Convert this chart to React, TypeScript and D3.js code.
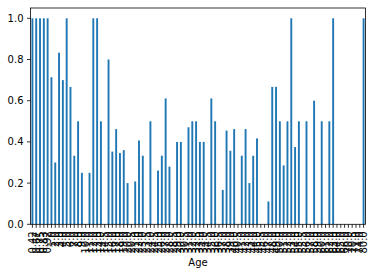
import React from "react";
import * as d3 from "d3";

const ages: number[] = [
  0.42, 0.67, 0.75, 0.83, 0.92, 1, 2, 3, 4, 5, 6, 7, 8, 9, 10, 11, 12, 13, 14, 14.5,
  15, 16, 17, 18, 19, 20, 20.5, 21, 22, 23, 23.5, 24, 24.5, 25, 26, 27, 28, 28.5, 29, 30,
  30.5, 31, 32, 32.5, 33, 34, 34.5, 35, 36, 36.5, 37, 38, 39, 40, 40.5, 41, 42, 43, 44, 45,
  45.5, 46, 47, 48, 49, 50, 51, 52, 53, 54, 55, 55.5, 56, 57, 58, 59, 60, 61, 62, 63,
  64, 65, 66, 70, 70.5, 71, 74, 80,
];

const survival: number[] = [
  1.0, 1.0, 1.0, 1.0, 1.0, 0.714, 0.3, 0.833, 0.7, 1.0, 0.667, 0.333, 0.5, 0.25, 0.0, 0.25, 1.0, 1.0, 0.5, 0.0,
  0.8, 0.353, 0.462, 0.346, 0.36, 0.2, 0.0, 0.208, 0.407, 0.333, 0.0, 0.5, 0.0, 0.261, 0.333, 0.611, 0.28, 0.0, 0.4, 0.4,
  0.0, 0.471, 0.5, 0.5, 0.4, 0.4, 0.0, 0.611, 0.5, 0.0, 0.167, 0.455, 0.357, 0.462, 0.0, 0.333, 0.462, 0.2, 0.333, 0.417,
  0.0, 0.0, 0.111, 0.667, 0.667, 0.5, 0.286, 0.5, 1.0, 0.375, 0.5, 0.0, 0.5, 0.0, 0.6, 0.0, 0.5, 0.0, 0.5, 1.0,
  0.0, 0.0, 0.0, 0.0, 0.0, 0.0, 0.0, 1.0,
];

const yTicks: number[] = [0, 0.2, 0.4, 0.6, 0.8, 1.0];

const fmtAge = (a: number) => (Number.isInteger(a) ? a.toFixed(1) : String(a));

export default function App() {
  const W = 375;
  const H = 275;
  const left = 30.5;
  const right = 365.5;
  const top = 8;
  const bottom = 224.3;

  const x = d3
    .scaleBand<string>()
    .domain(ages.map((_, i) => String(i)))
    .range([left, right])
    .paddingInner(0.5)
    .paddingOuter(0.25);
  const y = d3.scaleLinear().domain([0, 1.05]).range([bottom, top]);

  const font = "DejaVu Sans, sans-serif";

  return (
    <svg
      width={W}
      height={H}
      style={{ position: "absolute", left: 0, top: 0, background: "#fff" }}
      fontFamily={font}
    >
      {survival.map((v, i) => (
        <rect
          key={i}
          x={x(String(i))}
          width={x.bandwidth()}
          y={y(v)}
          height={bottom - y(v)}
          fill="#1f77b4"
        />
      ))}
      {/* spines */}
      <rect
        x={left}
        y={top}
        width={right - left}
        height={bottom - top}
        fill="none"
        stroke="#000"
        strokeWidth={0.8}
      />
      {/* y ticks */}
      {yTicks.map((t) => (
        <g key={t}>
          <line x1={left - 3.5} x2={left} y1={y(t)} y2={y(t)} stroke="#000" strokeWidth={0.8} />
          <text
            x={left - 7}
            y={y(t)}
            textAnchor="end"
            dominantBaseline="central"
            fontSize={10}
            fill="#000"
          >
            {t.toFixed(1)}
          </text>
        </g>
      ))}
      {/* x ticks */}
      {ages.map((a, i) => {
        const cx = (x(String(i)) as number) + x.bandwidth() / 2;
        return (
          <g key={i}>
            <line x1={cx} x2={cx} y1={bottom} y2={bottom + 3.5} stroke="#000" strokeWidth={0.8} />
            <text
              transform={`translate(${cx},${bottom + 7}) rotate(-90)`}
              textAnchor="end"
              dominantBaseline="central"
              fontSize={10}
              fill="#000"
            >
              {fmtAge(a)}
            </text>
          </g>
        );
      })}
      <text x={(left + right) / 2} y={266} textAnchor="middle" fontSize={10} fill="#000">
        Age
      </text>
    </svg>
  );
}
